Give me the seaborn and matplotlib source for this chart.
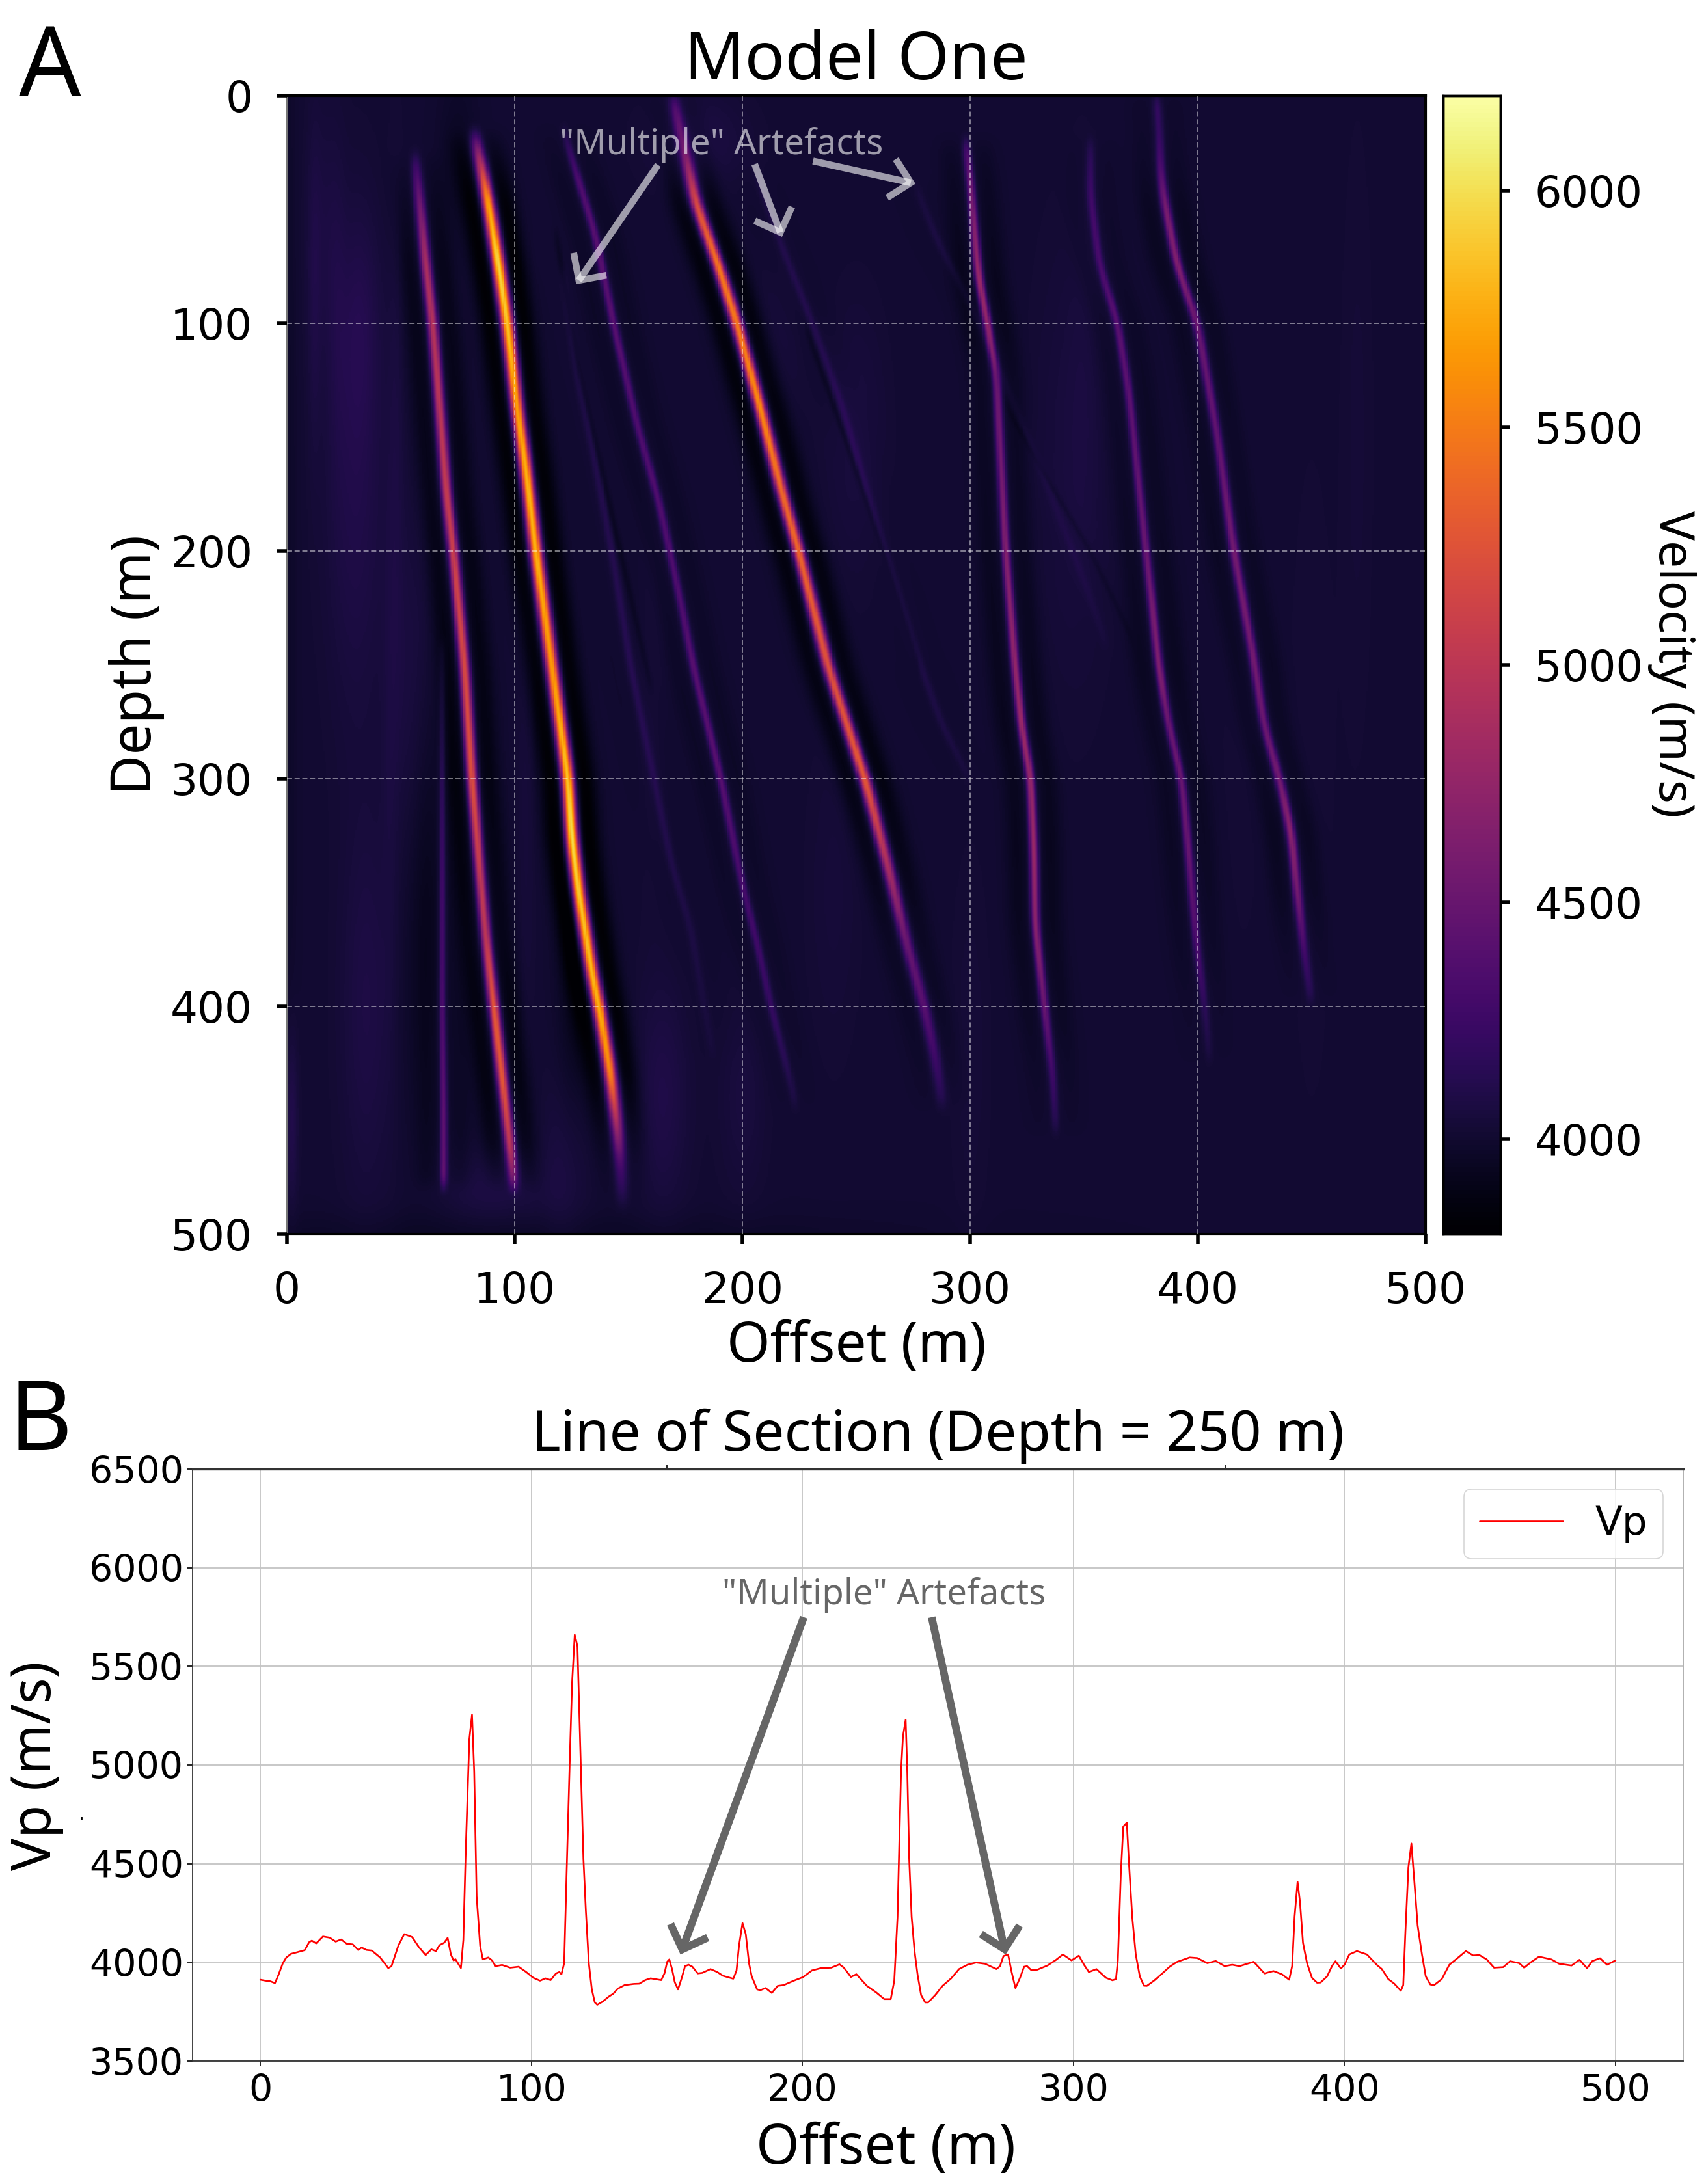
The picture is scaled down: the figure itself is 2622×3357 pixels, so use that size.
import numpy as np
import matplotlib
matplotlib.use('Agg')
import matplotlib.pyplot as plt
import seaborn as sns

W, H = 2622, 3357
CELL = 2  # heatmap cells per metre
BASE_V = 4008

# Reflectors: depth (m), offset (m), peak velocity (m/s)
R1_DEPTH = [26, 44, 74, 100, 136, 174, 200, 251, 300, 341, 369, 400, 433, 461, 479]
R1_OFFSET = [56.2, 58, 61, 64, 67, 70, 73, 78, 81.2, 84.7, 87.3, 90.9, 94.7, 97.9, 99.7]
R1_VEL = [4150, 4500, 4900, 4950, 5000, 5050, 5100, 5200, 5250, 5050, 5000, 5300, 5300, 5000, 4400]

R2_DEPTH = [16, 26, 46, 74, 100, 136, 167, 200, 251, 300, 325, 349, 386, 400, 428, 453, 469, 487]
R2_OFFSET = [82.2, 84.3, 88.3, 92.9, 96.7, 100.9, 105.3, 109.3, 116.4, 123.4, 125, 128, 134, 137, 141.8, 145, 146.4, 147.4]
R2_VEL = [4250, 4800, 5700, 6000, 5900, 5700, 5800, 5800, 5680, 5900, 6050, 5950, 5850, 5800, 5600, 4800, 4300, 4050]

R3_DEPTH = [1, 23, 47, 75, 100, 136, 175, 200, 251, 300, 338, 371, 400, 423, 443]
R3_OFFSET = [169.5, 174.5, 179.5, 189.6, 197.6, 207.6, 217.6, 224.7, 237.7, 253.8, 263.8, 271.8, 279.8, 284.8, 287.9]
R3_VEL = [4300, 4500, 5200, 5500, 5500, 5600, 5400, 5400, 5230, 5300, 4900, 4500, 4400, 4250, 4100]

R4_DEPTH = [20, 36, 79, 100, 123, 182, 200, 249, 277, 300, 331, 364, 400, 430, 454]
R4_OFFSET = [298, 299.9, 303.6, 307.6, 311.6, 314.6, 315.6, 319.6, 322.6, 326.6, 328, 328.6, 332.6, 336.2, 337.6]
R4_VEL = [4250, 4500, 4800, 4750, 4500, 4600, 4650, 4750, 4800, 4750, 4800, 4700, 4500, 4250, 4100]

R5_DEPTH = [20, 44, 74, 100, 131, 159, 200, 251, 275, 300, 331, 356, 380, 400, 423]
R5_OFFSET = [352.8, 352.8, 356.8, 364.8, 369.8, 372.8, 377.3, 382.9, 386.9, 392.9, 395.9, 397.9, 400.3, 403, 405]
R5_VEL = [4100, 4250, 4300, 4400, 4420, 4450, 4500, 4650, 4500, 4500, 4500, 4400, 4300, 4150, 4050]

R6_DEPTH = [1, 16, 33, 49, 74, 100, 151, 200, 249, 275, 300, 323, 351, 377, 397]
R6_OFFSET = [381.8, 383, 383.5, 385.8, 390.8, 399.8, 408.8, 415.8, 424.8, 428.8, 435.8, 440.8, 443.8, 446.8, 449.8]
R6_VEL = [4200, 4200, 4350, 4600, 4650, 4500, 4450, 4550, 4550, 4500, 4550, 4700, 4550, 4250, 4100]

# fainter "multiple" events
M1_DEPTH = [15, 38, 61, 100, 143, 179, 225, 251, 300, 345, 377, 400, 427, 444]
M1_OFFSET = [121.4, 128.4, 135.4, 143.4, 153.4, 163.5, 173.5, 178.5, 190.6, 199.6, 207.6, 212.6, 219.6, 223.6]
M1_VEL = [4100, 4350, 4400, 4400, 4350, 4350, 4350, 4400, 4400, 4300, 4250, 4200, 4120, 4050]

M2_DEPTH = [240, 300, 348, 400, 446, 478]
M2_OFFSET = [68.2, 68.2, 68.2, 68.2, 68.8, 68.8]
M2_VEL = [4050, 4200, 4300, 4350, 4450, 4450]

M3_DEPTH = [77, 120, 159, 208, 251, 299, 338, 364, 421]
M3_OFFSET = [121, 127, 135, 144, 151, 161, 169, 177, 187]
M3_VEL = [4050, 4080, 4100, 4110, 4120, 4100, 4090, 4070, 4030]

M4_DEPTH = [33, 67, 97, 136, 184, 249, 277, 300]
M4_OFFSET = [205.6, 217.7, 229.7, 243.7, 257.8, 277.8, 288, 300]
M4_VEL = [4050, 4090, 4100, 4110, 4090, 4080, 4070, 4040]

M5_DEPTH = [39, 64, 87, 133, 168, 209, 241]
M5_OFFSET = [275.8, 285.9, 297.9, 318.6, 332.6, 348.6, 360]
M5_VEL = [4040, 4070, 4050, 4030, 4040, 4040, 4030]

# thin dark streaks, below the background level
D1_DEPTH = [101, 150, 200, 251]
D1_OFFSET = [227.7, 245, 262, 277.8]
D1_VEL = [3950, 3930, 3930, 3950]

D2_DEPTH = [134, 165, 200, 240]
D2_OFFSET = [314.6, 332, 352.8, 372]
D2_VEL = [3970, 3960, 3960, 3975]

D3_DEPTH = [60, 120, 190, 260]
D3_OFFSET = [118, 128, 144, 160]
D3_VEL = [3950, 3940, 3940, 3960]

RIDGES = [
    (R1_DEPTH, R1_OFFSET, R1_VEL, 1.6),
    (R2_DEPTH, R2_OFFSET, R2_VEL, 1.9),
    (R3_DEPTH, R3_OFFSET, R3_VEL, 1.8),
    (R4_DEPTH, R4_OFFSET, R4_VEL, 1.3),
    (R5_DEPTH, R5_OFFSET, R5_VEL, 1.3),
    (R6_DEPTH, R6_OFFSET, R6_VEL, 1.4),
    (M1_DEPTH, M1_OFFSET, M1_VEL, 1.3),
    (M2_DEPTH, M2_OFFSET, M2_VEL, 1.1),
    (M3_DEPTH, M3_OFFSET, M3_VEL, 1.3),
    (M4_DEPTH, M4_OFFSET, M4_VEL, 1.3),
    (M5_DEPTH, M5_OFFSET, M5_VEL, 1.3),
    (D1_DEPTH, D1_OFFSET, D1_VEL, 1.0),
    (D2_DEPTH, D2_OFFSET, D2_VEL, 1.0),
    (D3_DEPTH, D3_OFFSET, D3_VEL, 1.0),
]

# soft background patches: offset, depth, size across, size down, velocity change
BLOB_OFFSET = [30, 55, 35, 32, 2, 90, 122, 165, 200, 180, 250, 345, 15, 60, 75, 125, 100, 0,
               12, 22, 48, 45, 105, 160, 300, 350, 420, 470, 450, 240, 215]
BLOB_DEPTH = [170, 270, 400, 100, 450, 480, 470, 440, 440, 20, 150, 160, 60, 350, 25, 400, 502, 200,
              90, 90, 150, 300, 300, 270, 420, 120, 250, 150, 300, 350, 110]
BLOB_DX = [9, 7, 8, 6, 2, 15, 7, 8, 7, 15, 9, 12, 5, 8, 6, 5, 110, 3,
           2, 3, 2.5, 2.5, 3, 4, 6, 5, 8, 5, 8, 8, 8]
BLOB_DY = [70, 60, 60, 35, 28, 12, 30, 35, 30, 15, 40, 70, 40, 70, 25, 50, 8, 220,
           50, 50, 90, 90, 100, 60, 60, 60, 100, 100, 120, 50, 30]
BLOB_DV = [90, 70, 75, 70, 110, 70, 70, 85, 50, 70, 50, 45, 50, -70, -50, -70, -50, -40,
           50, 40, 40, 30, 30, 25, 25, 20, 15, 20, 15, 30, 30]

# Trace
OFFSET = [0, 2, 3.7, 5.4, 6.7, 8.3, 9.6, 11.3, 13.8, 16.4, 18, 19, 20.6, 23.1, 25.6, 27.8, 29.8, 31.9, 34.1, 36.1,
          37.4, 39.1, 41.1, 44.2, 47.2, 48.4, 50.9, 53.1, 56, 58.5, 61, 63.1, 64.8, 66.1, 67.8, 69.1, 70.3, 71.3, 72, 74,
          74.9, 75.7, 77.1, 78.1, 78.9, 79.8, 81.1, 82.1, 84.1, 85.5, 86.8, 89.2, 92.2, 95.3, 98.1, 100.7, 103.2, 105.2, 107.1, 109.1,
          110.3, 111.1, 112.1, 113, 114.2, 115, 116, 117, 118, 119.2, 120.1, 121.2, 122.3, 123.4, 124.3, 126.3, 128.5, 130.2, 131.9, 134.4,
          137.8, 139.8, 142, 144, 147.9, 149.1, 150.1, 150.9, 151.9, 152.9, 154.1, 155.5, 156.7, 158, 159.4, 161.4, 163.1, 166.1, 168.6, 170.7,
          174.5, 175.7, 176.6, 177.9, 179.1, 180.3, 181.3, 183.3, 184.5, 186.4, 188.7, 190.9, 193.1, 196.8, 200.2, 203.5, 206.9, 210.6, 213.7, 215.3,
          217.9, 219.9, 223.8, 227.2, 230.2, 232.6, 233.9, 235.1, 236.4, 237.1, 238.1, 238.7, 239.4, 240.3, 241.4, 242.5, 243.8, 245.3, 246.4, 249,
          251.7, 254.9, 257.8, 260.9, 264.1, 267.4, 271.6, 272.9, 274.2, 275.9, 277.2, 278.6, 280.3, 281.8, 282.9, 284.5, 286.7, 290.4, 293.6, 296.1,
          299.3, 302, 303.9, 305.7, 308.5, 312, 314.4, 315.7, 316.4, 317.5, 318.4, 319.7, 320.4, 321.7, 323, 324.5, 326, 327.1, 329.7, 332.8,
          335.5, 338.3, 342.9, 345.7, 349.4, 352.5, 355.8, 358.6, 361.3, 366.5, 370.5, 373.8, 376.9, 379.6, 380.7, 381.6, 382.7, 383.6, 384.7, 386.2,
          388, 389.9, 391.2, 393.6, 395.4, 396.7, 398.7, 400, 401.8, 404.6, 408.3, 411.9, 413.8, 416.2, 418.4, 420.8, 421.7, 422.5, 423.6, 424.7,
          425.8, 427, 428.6, 430, 431.7, 433.1, 435.9, 438.7, 441.4, 444.8, 447.5, 449.8, 452.5, 455.2, 458.6, 461.1, 464.5, 466.3, 469, 471.8,
          476.4, 479.2, 483.8, 486.7, 489.5, 491.5, 494.3, 496.9, 500]
VP = [3912, 3907, 3904, 3895, 3937, 3996, 4025, 4043, 4052, 4062, 4102, 4110, 4096, 4131, 4125, 4105, 4116, 4094, 4091, 4063,
      4075, 4063, 4060, 4025, 3971, 3981, 4084, 4143, 4128, 4077, 4037, 4066, 4057, 4087, 4099, 4124, 4040, 4010, 4016, 3971,
      4113, 4526, 5130, 5255, 4968, 4334, 4084, 4015, 4025, 4010, 3981, 3987, 3973, 3978, 3951, 3922, 3907, 3919, 3910, 3944,
      3951, 3940, 3996, 4452, 5041, 5410, 5660, 5601, 5115, 4526, 4261, 3996, 3863, 3797, 3785, 3801, 3826, 3841, 3867, 3885,
      3891, 3892, 3910, 3919, 3910, 3944, 4003, 4015, 3966, 3900, 3863, 3922, 3981, 3988, 3978, 3944, 3947, 3966, 3951, 3932,
      3917, 3959, 4084, 4199, 4143, 3996, 3929, 3863, 3859, 3870, 3845, 3881, 3885, 3907, 3925, 3959, 3971, 3973, 3990, 3973,
      3926, 3940, 3881, 3848, 3814, 3814, 3907, 4231, 4968, 5145, 5229, 4968, 4526, 4231, 4054, 3937, 3834, 3797, 3797, 3834,
      3881, 3919, 3966, 3988, 3999, 3993, 3966, 3981, 4032, 4040, 3951, 3870, 3922, 3978, 3981, 3960, 3963, 3984, 4013, 4040,
      4010, 4034, 3988, 3951, 3966, 3922, 3909, 3915, 4010, 4452, 4688, 4708, 4526, 4231, 4040, 3929, 3882, 3881, 3907, 3944,
      3978, 4003, 4025, 4022, 3996, 4007, 3981, 3988, 3981, 4003, 3944, 3956, 3940, 3912, 3981, 4231, 4408, 4305, 4099, 3996,
      3922, 3897, 3898, 3929, 3981, 4006, 3969, 3988, 4040, 4057, 4040, 3988, 3966, 3915, 3892, 3856, 3885, 4158, 4482, 4602,
      4408, 4187, 4040, 3929, 3888, 3885, 3915, 3988, 4018, 4057, 4035, 4037, 4015, 3973, 3976, 4006, 3996, 3973, 4003, 4029,
      4015, 3993, 3984, 4013, 3971, 4007, 4021, 3988, 4010]

OFFSET_TICKS = [0, 100, 200, 300, 400, 500]
DEPTH_TICKS = [0, 100, 200, 300, 400, 500]
CBAR_TICKS = [4000, 4500, 5000, 5500, 6000]
VP_TICKS = [3500, 4000, 4500, 5000, 5500, 6000, 6500]


def px_rect(left, right, top, bottom):
    return [left / W, 1 - bottom / H, (right - left) / W, (bottom - top) / H]


def smooth(values, size):
    kernel = np.hanning(size)
    kernel /= kernel.sum()
    padded = np.pad(values, size, mode='edge')
    return np.convolve(padded, kernel, mode='same')[size:-size]


def build_field():
    n = 500 * CELL
    x = (np.arange(n) + 0.5) / CELL
    rows = (np.arange(n) + 0.5) / CELL
    X, Y = np.meshgrid(x, rows)
    field = np.full((n, n), float(BASE_V))
    for ox, oy, dx, dy, dv in zip(BLOB_OFFSET, BLOB_DEPTH, BLOB_DX, BLOB_DY, BLOB_DV):
        field += dv * np.exp(-(X - ox) ** 2 / (2 * dx ** 2) - (Y - oy) ** 2 / (2 * dy ** 2))
    for depth, offset, vel, w in RIDGES:
        # the picture only gives the trace at the read depths, the rest is spread between them
        centre = smooth(np.interp(rows, depth, offset), 30 * CELL)
        amp = smooth(np.interp(rows, depth, np.array(vel) - 4000.0, left=0, right=0), 16 * CELL)
        d = X - centre[:, None]
        shape = np.exp(-d ** 2 / (2 * w ** 2))
        lobes = np.exp(-(d - 7.5) ** 2 / (2 * 3.6 ** 2)) + np.exp(-(d + 7.5) ** 2 / (2 * 3.6 ** 2))
        field += amp[:, None] * (shape - 0.10 * lobes)
    return field


sns.set_style('ticks')
plt.rcParams['font.family'] = ['DejaVu Sans']
plt.rcParams.update({'text.color': 'black', 'axes.labelcolor': 'black', 'xtick.color': 'black',
                     'ytick.color': 'black', 'axes.edgecolor': 'black'})
LABEL_FONT = 'Noto Sans'

fig = plt.figure(figsize=(W / 100, H / 100), dpi=100)

# ── Panel A ──────────────────────────────────────────────────────────────────
ax = fig.add_axes(px_rect(441, 2191, 147, 1897))
cax = fig.add_axes(px_rect(2218, 2306, 147, 1897))

sns.heatmap(build_field(), ax=ax, cbar_ax=cax, cmap='inferno', vmin=3800, vmax=6200,
            xticklabels=False, yticklabels=False, rasterized=True)

ax.set_xticks(np.array(OFFSET_TICKS) * CELL, labels=OFFSET_TICKS)
ax.set_yticks(np.array(DEPTH_TICKS) * CELL, labels=DEPTH_TICKS, rotation=0)
ax.tick_params(axis='both', labelsize=47.5, length=11, width=4, color='black', pad=29)
ax.tick_params(axis='y', pad=27)
ax.set_axisbelow(False)
ax.grid(True, color='white', linestyle=(0, (5.2, 2.5)), linewidth=1.1, alpha=0.6)
for gridlines in (ax.xaxis.get_gridlines(), ax.yaxis.get_gridlines()):
    gridlines[0].set_visible(False)
    gridlines[-1].set_visible(False)
for side, spine in ax.spines.items():
    spine.set_visible(True)
    spine.set_linewidth(3)
    spine.set_color('black')
ax.spines['left'].set_linewidth(1.5)
ax.spines['left'].set_color('#777777')

ax.set_title('Model One', fontsize=73.5, family=LABEL_FONT, pad=8)
ax.set_xlabel('Offset (m)', fontsize=61.5, family=LABEL_FONT, va='center')
ax.xaxis.set_label_coords(0.5, -0.0992)
ax.set_ylabel('Depth (m)', fontsize=61.5, family=LABEL_FONT, va='center')
ax.yaxis.set_label_coords(-0.132, 0.5)

cax.tick_params(axis='y', labelsize=47, length=11, width=4, pad=27)
cax.set_yticks(CBAR_TICKS)
cax.set_ylabel('Velocity (m/s)', fontsize=54, family=LABEL_FONT, rotation=270, va='center')
cax.yaxis.set_label_coords(3.99, 0.501)
for spine in cax.spines.values():
    spine.set_visible(True)
    spine.set_linewidth(2.5)

ax.text(190.9 * CELL, 21.5 * CELL, '"Multiple" Artefacts', color='white', alpha=0.6,
        fontsize=39.3, family=LABEL_FONT, ha='center', va='center')
arrows_a = [((162.9, 30.4), (127, 82.9)), ((205.4, 30.1), (217.4, 62)), ((231, 28.7), (276, 38.7))]
for start, tip in arrows_a:
    ax.annotate('', xy=(tip[0] * CELL, tip[1] * CELL), xytext=(start[0] * CELL, start[1] * CELL),
                arrowprops=dict(arrowstyle='->,head_length=0.3,head_width=0.3', mutation_scale=73,
                                color='white', alpha=0.6, lw=7.5, shrinkA=0, shrinkB=0,
                                capstyle='butt', joinstyle='miter'))

# ── Panel B ──────────────────────────────────────────────────────────────────
bx = fig.add_axes(px_rect(296, 2587, 2258, 3168))
sns.lineplot(x=OFFSET, y=VP, ax=bx, color='red', linewidth=1.9, label='Vp',
             estimator=None, sort=False)
bx.set_xlim(-25, 525)
bx.set_ylim(3500, 6500)
bx.set_xticks(OFFSET_TICKS)
bx.set_yticks(VP_TICKS)
bx.tick_params(axis='x', labelsize=41, length=6, width=1.2, pad=8)
bx.tick_params(axis='y', labelsize=41, length=6, width=1.2, pad=4)
bx.grid(True, color='#c4c4c4', linewidth=1.3)
bx.set_axisbelow(True)
for side, spine in bx.spines.items():
    spine.set_linewidth(1.3)
    spine.set_color('#333333')
bx.spines['top'].set_linewidth(2.4)
bx.spines['right'].set_color('#aaaaaa')

sec = bx.secondary_xaxis('top')
sec.set_xticks([150, 356], labels=[])
sec.tick_params(length=4, width=1.2)
sec.spines['top'].set_visible(False)

bx.set_title('Line of Section (Depth = 250 m)', fontsize=61.5, family=LABEL_FONT, pad=20)
bx.set_xlabel('Offset (m)', fontsize=61.5, family=LABEL_FONT, va='center')
bx.xaxis.set_label_coords(0.465, -0.1495)
bx.set_ylabel('Vp (m/s)', fontsize=60, family=LABEL_FONT, va='center')
bx.yaxis.set_label_coords(-0.1047, 0.499)

leg = bx.legend(loc='upper right', fontsize=44, handlelength=2.1, borderaxespad=0.5)
leg.get_frame().set_linewidth(1.2)

bx.text(230, 5862, '"Multiple" Artefacts', color='#666666', fontsize=39.3, family=LABEL_FONT,
        ha='center', va='center')
arrows_b = [((200.5, 5749), (155, 4040)), ((247.7, 5749), (275, 4040))]
for start, tip in arrows_b:
    bx.annotate('', xy=tip, xytext=start,
                arrowprops=dict(arrowstyle='->,head_length=0.3,head_width=0.3', mutation_scale=73,
                                color='#666666', lw=8.5, shrinkA=0, shrinkB=0,
                                capstyle='butt', joinstyle='miter'))

fig.text(29 / W, 1 - 148 / H, 'A', fontsize=108, family=LABEL_FONT, va='baseline')
fig.text(14 / W, 1 - 2229 / H, 'B', fontsize=108, family=LABEL_FONT, va='baseline')
fig.text(121 / W, 1 - 2797 / H, '.', fontsize=20, va='baseline')

fig.savefig('out.png', dpi=100)
